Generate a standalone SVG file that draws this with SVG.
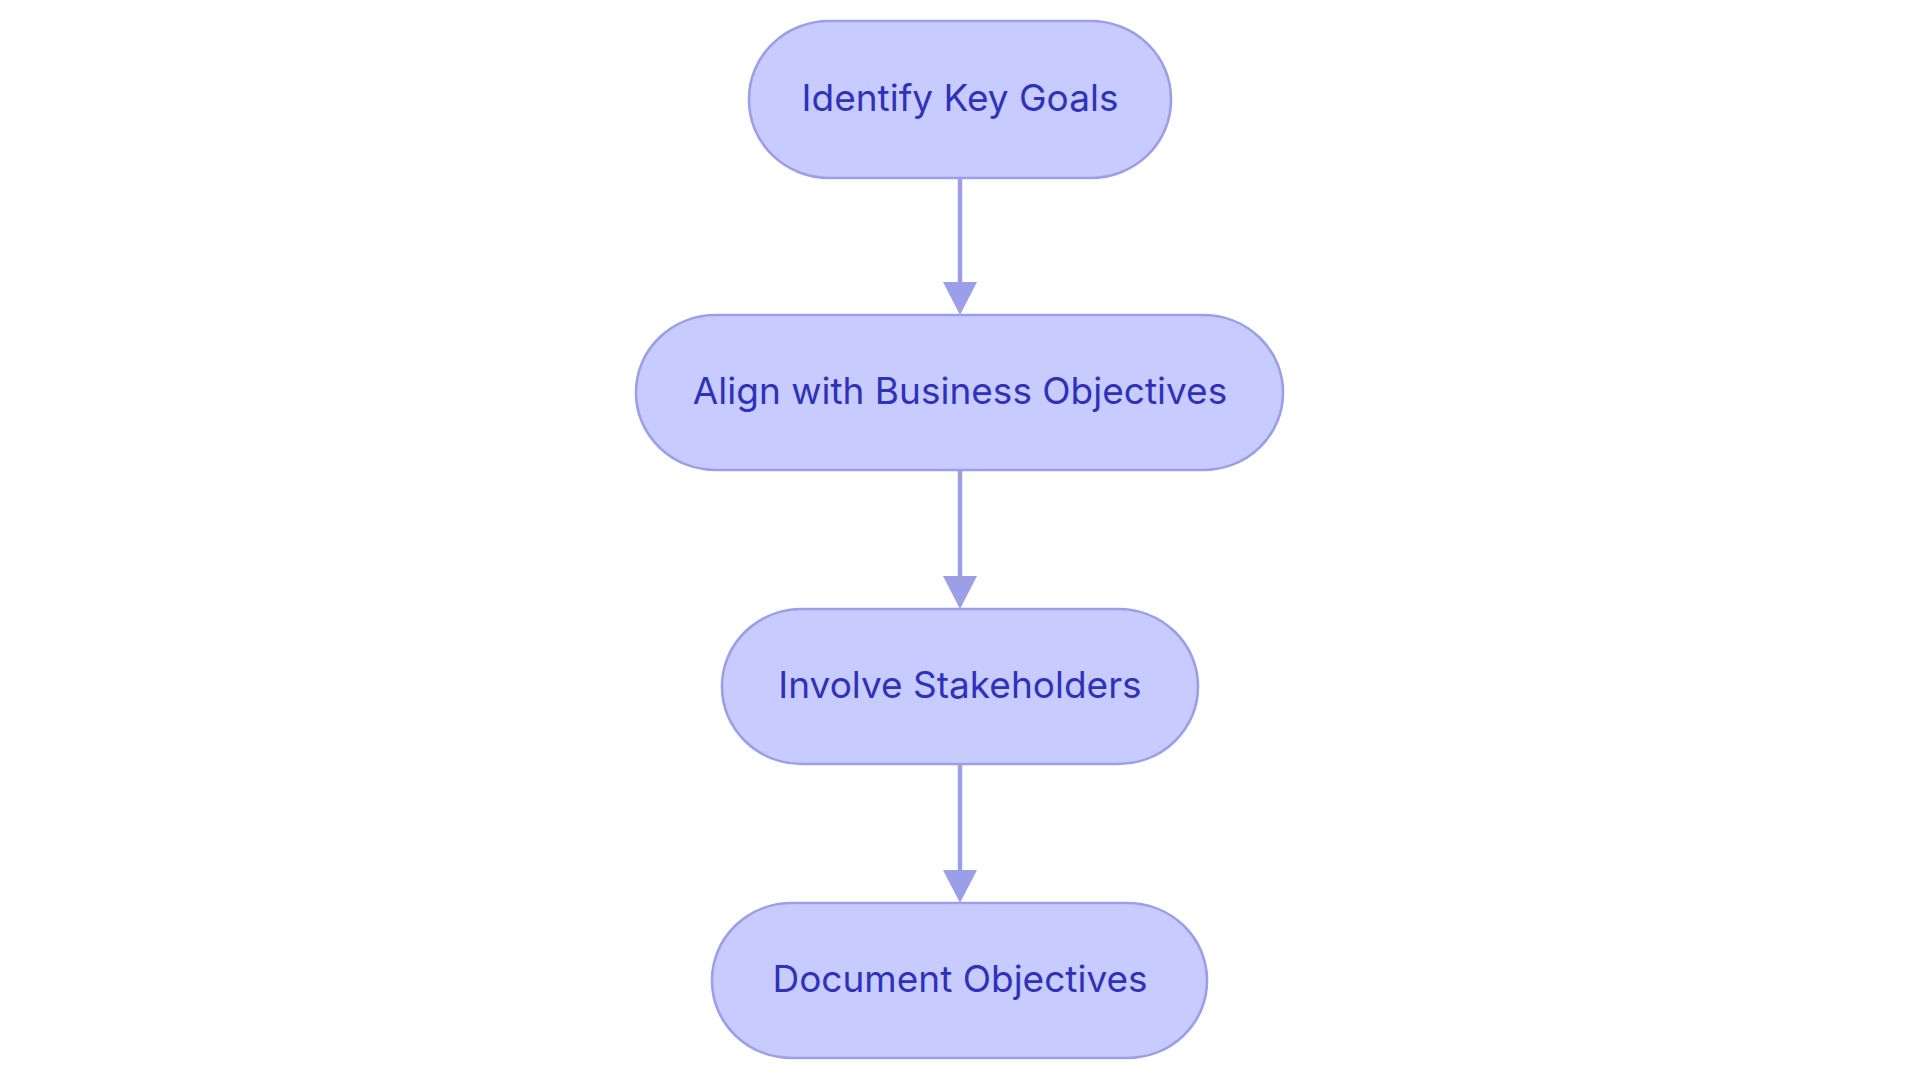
<svg xmlns="http://www.w3.org/2000/svg" width="1920" height="1083" viewBox="0 0 1920 1083">
<style>
.node rect{fill:#c8cbff;stroke:#9a9fe8;stroke-width:2.6}
.node text{font-family:Inter,"Noto Sans",sans-serif;font-size:37px;fill:#2f31b8;text-anchor:middle;dominant-baseline:central}
.edge{stroke:#9a9fe8;stroke-width:4.4;fill:none}
</style>
<rect width="1920" height="1083" fill="#ffffff"/>
<g id="connectors">
<line class="edge" x1="960" y1="178" x2="960" y2="290"/>
<path d="M943,282 L977,282 L960,315 z" fill="#9a9fe8"/>
<line class="edge" x1="960" y1="470" x2="960" y2="584"/>
<path d="M943,576 L977,576 L960,609 z" fill="#9a9fe8"/>
<line class="edge" x1="960" y1="764" x2="960" y2="878"/>
<path d="M943,870 L977,870 L960,903 z" fill="#9a9fe8"/>
</g>
<g id="node1" class="node">
<rect x="749" y="21" width="422" height="157" rx="80" ry="78"/>
<text x="960" y="97">Identify Key Goals</text>
</g>
<g id="node2" class="node">
<rect x="636" y="315" width="647" height="155" rx="80" ry="77"/>
<text x="960" y="390">Align with Business Objectives</text>
</g>
<g id="node3" class="node">
<rect x="722" y="609" width="476" height="155" rx="80" ry="77"/>
<text x="960" y="684">Involve Stakeholders</text>
</g>
<g id="node4" class="node">
<rect x="712" y="903" width="495" height="155" rx="80" ry="77"/>
<text x="960" y="978">Document Objectives</text>
</g>
</svg>
